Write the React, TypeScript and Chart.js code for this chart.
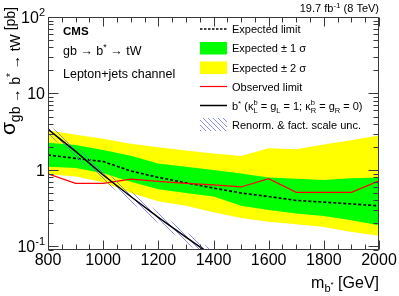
import React, { useEffect, useRef } from 'react';
import { Chart, registerables } from 'chart.js';

Chart.register(...registerables);

// ---------------- data ----------------
const massPoints = [800, 900, 1000, 1100, 1200, 1300, 1400, 1500, 1600, 1700, 1800, 1900, 2000];
const expectedLimit = [1.57, 1.42, 1.29, 0.97, 0.8, 0.68, 0.58, 0.5, 0.45, 0.4, 0.38, 0.36, 0.34];
const observedLimit = [0.89, 0.67, 0.67, 0.76, 0.71, 0.67, 0.64, 0.6, 0.77, 0.51, 0.51, 0.51, 0.72];
const expPlus1 = [2.27, 2.13, 1.83, 1.54, 1.22, 1.1, 1.0, 0.9, 0.8, 0.77, 0.74, 0.78, 0.8];
const expMinus1 = [1.1, 1.06, 0.91, 0.7, 0.56, 0.5, 0.45, 0.34, 0.3, 0.27, 0.25, 0.22, 0.19];
const expPlus2 = [3.3, 2.9, 2.56, 2.2, 1.98, 1.8, 1.64, 1.52, 1.93, 1.87, 2.15, 2.45, 2.83];
const expMinus2 = [0.88, 0.82, 0.69, 0.5, 0.39, 0.34, 0.28, 0.235, 0.21, 0.195, 0.18, 0.155, 0.138];

const theoryMass = [800, 900, 1000, 1100, 1200, 1300, 1400];
const theoryXsec = [3.4, 1.75, 0.86, 0.45, 0.24, 0.133, 0.074];
const theoryUp = [4.0, 2.05, 1.0, 0.53, 0.28, 0.156, 0.087];
const theoryDown = [2.9, 1.48, 0.73, 0.38, 0.203, 0.112, 0.062];

const xMin = 800;
const xMax = 2000;
const xMajorStep = 200;
const xMinorStep = 50;
const yMin = 0.09;
const yMax = 100;
const yMajorTicks = [0.1, 1, 10, 100];
const yTickBase = ['10', '1', '10', '10'];
const yTickExp = ['-1', '', '', '2'];

const legendLabels = [
  'Expected limit',
  'Expected \u00b1 1 \u03c3',
  'Expected \u00b1 2 \u03c3',
  'Observed limit',
  'b*',
  'Renorm. & fact. scale unc.',
];

const FONT = '"Liberation Sans", Arial, Helvetica, sans-serif';
const YELLOW = '#ffff00';
const GREEN = '#00ff00';
const RED = '#ff0000';
const HATCH = '#6f6ff2';

type Seg = { t: string; size: number; dy?: number; bold?: boolean; adv?: boolean };

function setFont(ctx: CanvasRenderingContext2D, s: Seg) {
  ctx.font = `${s.bold ? 'bold ' : ''}${s.size}px ${FONT}`;
}

function drawRich(ctx: CanvasRenderingContext2D, x: number, y: number, segs: Seg[], align: 'left' | 'right' = 'left') {
  let total = 0;
  for (const s of segs) {
    setFont(ctx, s);
    if (s.adv !== false) total += ctx.measureText(s.t).width;
  }
  let cx = align === 'right' ? x - total : x;
  ctx.textAlign = 'left';
  ctx.textBaseline = 'alphabetic';
  for (const s of segs) {
    setFont(ctx, s);
    ctx.fillText(s.t, cx, y + (s.dy || 0));
    if (s.adv !== false) cx += ctx.measureText(s.t).width;
  }
  return total;
}

function makeHatch(): CanvasPattern | string {
  const c = document.createElement('canvas');
  c.width = 5;
  c.height = 5;
  const g = c.getContext('2d');
  if (!g) return HATCH;
  g.strokeStyle = HATCH;
  g.lineWidth = 0.8;
  g.beginPath();
  g.moveTo(0, 0);
  g.lineTo(5, 5);
  g.moveTo(-1, 4);
  g.lineTo(1, 6);
  g.moveTo(4, -1);
  g.lineTo(6, 1);
  g.stroke();
  return g.createPattern(c, 'repeat') || HATCH;
}

function pts(xs: number[], ys: number[]) {
  return xs.map((x, i) => ({ x, y: ys[i] }));
}

export default function App() {
  const ref = useRef<HTMLCanvasElement | null>(null);

  useEffect(() => {
    const canvas = ref.current;
    if (!canvas) return;
    const hatch = makeHatch();

    const decor = {
      id: 'decor',
      afterDraw(chart: any) {
        const ctx: CanvasRenderingContext2D = chart.ctx;
        const xa = chart.scales.x;
        const ya = chart.scales.y;
        const { left, right, top, bottom } = chart.chartArea;
        ctx.save();

        // frame
        ctx.strokeStyle = '#3a3a3a';
        ctx.lineWidth = 1;
        const L = Math.round(left) + 0.5;
        const R = Math.round(right) - 0.5;
        const T = Math.round(top) + 0.5;
        const B = Math.round(bottom) - 0.5;
        ctx.strokeRect(L, T, R - L, B - T);

        // x ticks (bottom + top, inside)
        ctx.beginPath();
        for (let v = xMin; v <= xMax; v += xMinorStep) {
          const px = Math.round(xa.getPixelForValue(v)) + 0.5;
          const len = v % xMajorStep === 0 ? 9 : 5;
          ctx.moveTo(px, B);
          ctx.lineTo(px, B - len);
          ctx.moveTo(px, T);
          ctx.lineTo(px, T + len);
        }
        // y ticks (left + right, inside)
        for (let k = -2; k <= 2; k++) {
          for (let m = 1; m <= 9; m++) {
            const v = m * Math.pow(10, k);
            if (v < yMin * 0.999 || v > yMax * 1.001) continue;
            const py = Math.round(ya.getPixelForValue(v)) + 0.5;
            const len = m === 1 ? 10 : 5;
            ctx.moveTo(L, py);
            ctx.lineTo(L + len, py);
            ctx.moveTo(R, py);
            ctx.lineTo(R - len, py);
          }
        }
        ctx.stroke();

        ctx.fillStyle = '#000';
        // y tick labels
        yMajorTicks.forEach((v, i) => {
          const py = ya.getPixelForValue(v);
          const segs: Seg[] = [{ t: yTickBase[i], size: 16 }];
          if (yTickExp[i]) segs.push({ t: yTickExp[i], size: 11, dy: -7 });
          drawRich(ctx, left - 3, py + 6, segs, 'right');
        });

        // y axis title (rotated)
        ctx.save();
        ctx.translate(15, 7);
        ctx.rotate(-Math.PI / 2);
        drawRich(
          ctx,
          0,
          0,
          [
            { t: '\u03c3', size: 21 },
            { t: 'gb \u2192 b', size: 14, dy: 5 },
            { t: '*', size: 10, dy: -1 },
            { t: ' \u2192 tW', size: 14, dy: 5 },
            { t: ' [pb]', size: 14 },
          ],
          'right'
        );
        ctx.restore();

        // x axis title
        drawRich(
          ctx,
          right,
          288,
          [
            { t: 'm', size: 16 },
            { t: 'b', size: 11, dy: 4 },
            { t: '*', size: 8, dy: -1 },
            { t: ' [GeV]', size: 16 },
          ],
          'right'
        );

        // luminosity label
        drawRich(
          ctx,
          right,
          12,
          [
            { t: '19.7 fb', size: 11 },
            { t: '-1', size: 8, dy: -4 },
            { t: ' (8 TeV)', size: 11 },
          ],
          'right'
        );

        // CMS labels
        drawRich(ctx, 63, 35, [{ t: 'CMS', size: 11.5, bold: true }]);
        drawRich(ctx, 63, 55, [
          { t: 'gb \u2192 b', size: 12.5 },
          { t: '*', size: 9, dy: -5 },
          { t: ' \u2192 tW', size: 12.5 },
        ]);
        drawRich(ctx, 63, 77.5, [{ t: 'Lepton+jets channel', size: 12.5 }]);

        // legend
        const sx0 = 200;
        const sx1 = 227;
        const tx = 232;
        const rows = [29, 48, 67.5, 86.5, 105.5, 124.5];
        ctx.strokeStyle = '#000';
        ctx.lineWidth = 1.3;
        ctx.setLineDash([2.5, 1.5]);
        ctx.beginPath();
        ctx.moveTo(sx0, rows[0]);
        ctx.lineTo(sx1, rows[0]);
        ctx.stroke();
        ctx.setLineDash([]);
        ctx.fillStyle = GREEN;
        ctx.fillRect(sx0, rows[1] - 6, sx1 - sx0, 12.5);
        ctx.fillStyle = YELLOW;
        ctx.fillRect(sx0, rows[2] - 6, sx1 - sx0, 12.5);
        ctx.strokeStyle = RED;
        ctx.lineWidth = 1.2;
        ctx.beginPath();
        ctx.moveTo(sx0, rows[3]);
        ctx.lineTo(sx1, rows[3]);
        ctx.stroke();
        ctx.strokeStyle = '#000';
        ctx.lineWidth = 1.5;
        ctx.beginPath();
        ctx.moveTo(sx0, rows[4]);
        ctx.lineTo(sx1, rows[4]);
        ctx.stroke();
        ctx.fillStyle = hatch as any;
        ctx.fillRect(sx0, rows[5] - 6.5, sx1 - sx0, 13);

        ctx.fillStyle = '#000';
        const fs = 11;
        drawRich(ctx, tx, rows[0] + 4, [{ t: legendLabels[0], size: fs }]);
        drawRich(ctx, tx, rows[1] + 4, [{ t: legendLabels[1], size: fs }]);
        drawRich(ctx, tx, rows[2] + 4, [{ t: legendLabels[2], size: fs }]);
        drawRich(ctx, tx, rows[3] + 4, [{ t: legendLabels[3], size: fs }]);
        drawRich(ctx, tx, rows[4] + 4, [
          { t: legendLabels[4].replace('*', ''), size: fs },
          { t: '*', size: 8, dy: -4 },
          { t: ' (\u03ba', size: fs },
          { t: 'b', size: 7.5, dy: -5, adv: false },
          { t: 'L', size: 7.5, dy: 3 },
          { t: ' = g', size: fs },
          { t: 'L', size: 7.5, dy: 3 },
          { t: ' = 1; \u03ba', size: fs },
          { t: 'b', size: 7.5, dy: -5, adv: false },
          { t: 'R', size: 7.5, dy: 3 },
          { t: ' = g', size: fs },
          { t: 'R', size: 7.5, dy: 3 },
          { t: ' = 0)', size: fs },
        ]);
        drawRich(ctx, tx, rows[5] + 4, [{ t: legendLabels[5], size: fs }]);

        ctx.restore();
      },
    };

    const lineBase = { pointRadius: 0, tension: 0, showLine: true };

    const chart = new Chart(canvas, {
      type: 'line',
      data: {
        datasets: [
          { ...lineBase, label: '+2', data: pts(massPoints, expPlus2), borderWidth: 0, backgroundColor: YELLOW, fill: 1, order: 10 },
          { ...lineBase, label: '-2', data: pts(massPoints, expMinus2), borderWidth: 0, fill: false, order: 9 },
          { ...lineBase, label: '+1', data: pts(massPoints, expPlus1), borderWidth: 0, backgroundColor: GREEN, fill: 3, order: 8 },
          { ...lineBase, label: '-1', data: pts(massPoints, expMinus1), borderWidth: 0, fill: false, order: 7 },
          { ...lineBase, label: 'Expected', data: pts(massPoints, expectedLimit), borderColor: '#000', borderWidth: 1.6, borderDash: [3, 2], fill: false, order: 5 },
          { ...lineBase, label: 'Observed', data: pts(massPoints, observedLimit), borderColor: RED, borderWidth: 1.2, fill: false, order: 4 },
          { ...lineBase, label: 'up', data: pts(theoryMass, theoryUp), borderWidth: 0, backgroundColor: hatch as any, fill: 7, order: 3 },
          { ...lineBase, label: 'down', data: pts(theoryMass, theoryDown), borderWidth: 0, fill: false, order: 2 },
          { ...lineBase, label: 'b*', data: pts(theoryMass, theoryXsec), borderColor: '#000', borderWidth: 1.5, fill: false, order: 1 },
        ],
      },
      options: {
        responsive: false,
        animation: false,
        devicePixelRatio: 1,
        layout: { padding: { top: 17, right: 20, left: 0, bottom: 0 } },
        plugins: { legend: { display: false }, tooltip: { enabled: false } },
        scales: {
          x: {
            type: 'linear',
            min: xMin,
            max: xMax,
            grid: { display: false, drawTicks: false },
            border: { display: false },
            ticks: {
              stepSize: xMajorStep,
              autoSkip: false,
              maxRotation: 0,
              minRotation: 0,
              padding: 1,
              color: '#000',
              font: { family: FONT, size: 16 },
              callback: (v: any) => String(v),
            },
            afterFit: (s: any) => {
              s.height = 46;
            },
          },
          y: {
            type: 'logarithmic',
            min: yMin,
            max: yMax,
            grid: { display: false, drawTicks: false },
            border: { display: false },
            ticks: { display: false },
            afterFit: (s: any) => {
              s.width = 48;
            },
          },
        },
      },
      plugins: [decor],
    } as any);

    return () => chart.destroy();
  }, []);

  return (
    <div style={{ position: 'fixed', left: 0, top: 0, width: 399, height: 296, background: '#fff' }}>
      <canvas ref={ref} width={399} height={296} style={{ display: 'block' }} />
    </div>
  );
}
